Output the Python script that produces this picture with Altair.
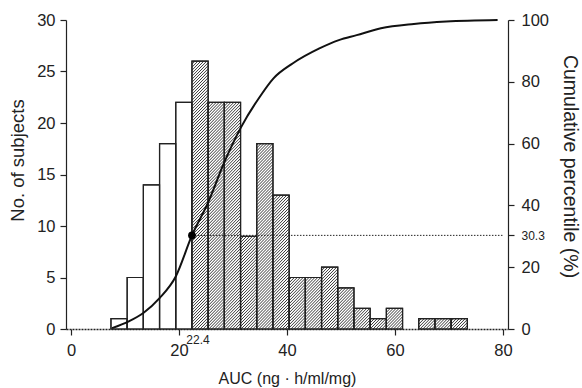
import altair as alt
import pandas as pd

# ---- data ----
bin_lo = [7.4, 10.4, 13.4, 16.4, 19.4, 22.4, 25.4, 28.4, 31.4, 34.4, 37.4,
          40.4, 43.4, 46.4, 49.4, 52.4, 55.4, 58.4, 61.4, 64.4, 67.4, 70.4]
bin_hi = [10.4, 13.4, 16.4, 19.4, 22.4, 25.4, 28.4, 31.4, 34.4, 37.4, 40.4,
          43.4, 46.4, 49.4, 52.4, 55.4, 58.4, 61.4, 64.4, 67.4, 70.4, 73.4]
counts = [1, 5, 14, 18, 22, 26, 22, 22, 9, 18, 13,
          5, 5, 6, 4, 2, 1, 2, 0, 1, 1, 1]
hatched = [False, False, False, False, False, True, True, True, True, True, True,
           True, True, True, True, True, True, True, True, True, True, True]

cum_x = [7.6, 10.7, 13.4, 16.4, 19.4, 22.4, 25.4, 28.4, 31.4, 35.1, 37.5,
         41.1, 46.0, 49.6, 52.9, 57.4, 63.5, 69.5, 79.0]
cum_y = [0.3, 2.5, 5.2, 10.0, 17.0, 30.3, 41.0, 54.0, 65.0, 75.5, 81.1,
         86.0, 90.8, 93.5, 95.1, 97.3, 98.7, 99.5, 100.0]

cut_x = 22.4
cut_pct = 30.3

x_ticks = [0, 20, 40, 60, 80]
count_ticks = [0, 5, 10, 15, 20, 25, 30]
pct_ticks = [0, 20, 30.3, 40, 60, 80, 100]

# ---- layout ----
W, H = 442, 309
X_MAX, C_MAX, P_MAX = 80, 30, 100
FONT = "Liberation Sans"
INK = "#222222"

bars = pd.DataFrame({"lo": bin_lo, "hi": bin_hi, "n": counts, "hatched": hatched})
bars = bars[bars["n"] > 0].copy()
bars["zero"] = 0

# hatch lines ("/") inside hatched bars, computed in pixel space then mapped back
sx, sy = W / X_MAX, H / C_MAX
pitch = 3.0
segs = []
for lo, hi, n, h in zip(bin_lo, bin_hi, counts, hatched):
    if not h or n == 0:
        continue
    x0, x1, top = lo * sx, hi * sx, n * sy
    k = int((x0 - top) // pitch) - 1
    while k * pitch <= x1:
        c = k * pitch
        ya = max(0.0, x0 - c)
        yb = min(top, x1 - c)
        if yb > ya:
            segs.append({"xa": (ya + c) / sx, "ya": ya / sy,
                         "xb": (yb + c) / sx, "yb": yb / sy})
        k += 1
hatch_df = pd.DataFrame(segs)

xscale = alt.Scale(domain=[0, X_MAX], nice=False, zero=False)
cscale = alt.Scale(domain=[0, C_MAX], nice=False)
pscale = alt.Scale(domain=[0, P_MAX], nice=False)

x_axis = alt.Axis(values=x_ticks, title="AUC (ng \u00b7 h/ml/mg)", grid=False,
                  tickSize=6, labelPadding=7, titlePadding=12, titleFontSize=16,
                  domainDash=[2, 1], domainWidth=1.4)

bar_layer = alt.Chart(bars).mark_bar(stroke=INK, strokeWidth=1.2, fill="white",
                                     orient="vertical").encode(
    x=alt.X("lo:Q", scale=xscale, axis=x_axis),
    x2="hi:Q",
    y=alt.Y("n:Q", scale=cscale,
            axis=alt.Axis(values=count_ticks, title="No. of subjects", grid=False,
                          tickSize=6, labelPadding=5, titlePadding=9,
                          titleFontSize=18.5, titleY=140, orient="left")),
    y2="zero:Q",
)

hatch_layer = alt.Chart(hatch_df).mark_rule(color=INK, strokeWidth=0.9).encode(
    x=alt.X("xa:Q", scale=xscale), x2="xb:Q",
    y=alt.Y("ya:Q", scale=cscale), y2="yb:Q",
)

bar_outline = alt.Chart(bars).mark_bar(stroke=INK, strokeWidth=1.2, fillOpacity=0,
                                       orient="vertical").encode(
    x=alt.X("lo:Q", scale=xscale), x2="hi:Q",
    y=alt.Y("n:Q", scale=cscale), y2="zero:Q",
)

lab_df = pd.DataFrame({"x": [cut_x], "y": [0], "t": [str(cut_x)]})
cut_label = alt.Chart(lab_df).mark_text(font=FONT, fontSize=12, color=INK,
                                        align="center", baseline="middle",
                                        dx=6, dy=11).encode(
    x=alt.X("x:Q", scale=xscale), y=alt.Y("y:Q", scale=cscale), text="t:N")

left = alt.layer(bar_layer, hatch_layer, bar_outline, cut_label)

cum_df = pd.DataFrame({"x": cum_x, "p": cum_y})
curve = alt.Chart(cum_df).mark_line(color="#111111", strokeWidth=2,
                                    interpolate="monotone").encode(
    x=alt.X("x:Q", scale=xscale),
    y=alt.Y("p:Q", scale=pscale,
            axis=alt.Axis(values=pct_ticks, title="Cumulative percentile (%)",
                          grid=False, orient="right", tickSize=6, labelPadding=7,
                          titlePadding=11, titleFontSize=19.5, titleY=146,
                          labelExpr="datum.value == 30.3 ? '30.3' : format(datum.value, 'd')",
                          labelFontSize={"condition": {"test": "datum.value == 30.3", "value": 12},
                                         "value": 16.5})),
)

ref_df = pd.DataFrame({"x": [cut_x], "x2": [X_MAX], "p": [cut_pct]})
ref_line = alt.Chart(ref_df).mark_rule(color=INK, strokeWidth=1,
                                       strokeDash=[1.5, 1.5]).encode(
    x=alt.X("x:Q", scale=xscale), x2="x2:Q",
    y=alt.Y("p:Q", scale=pscale),
)
dot = alt.Chart(ref_df).mark_circle(color="#000000", size=60, opacity=1).encode(
    x=alt.X("x:Q", scale=xscale),
    y=alt.Y("p:Q", scale=pscale),
)

right = alt.layer(ref_line, curve, dot)

chart = alt.layer(left, right).resolve_scale(y="independent").properties(
    width=W, height=H,
    autosize=alt.AutoSizeParams(type="none"),
    padding={"left": 66, "top": 20, "right": 74, "bottom": 59},
    background="white",
).configure_view(stroke=None).configure_axis(
    labelFont=FONT, titleFont=FONT, labelFontSize=16.5,
    titleFontWeight="normal", labelColor=INK, titleColor=INK,
    domainColor=INK, tickColor=INK, domainWidth=1.2, tickWidth=1.2,
)

chart.save("out.html", embed_options={"renderer": "svg", "actions": False})
